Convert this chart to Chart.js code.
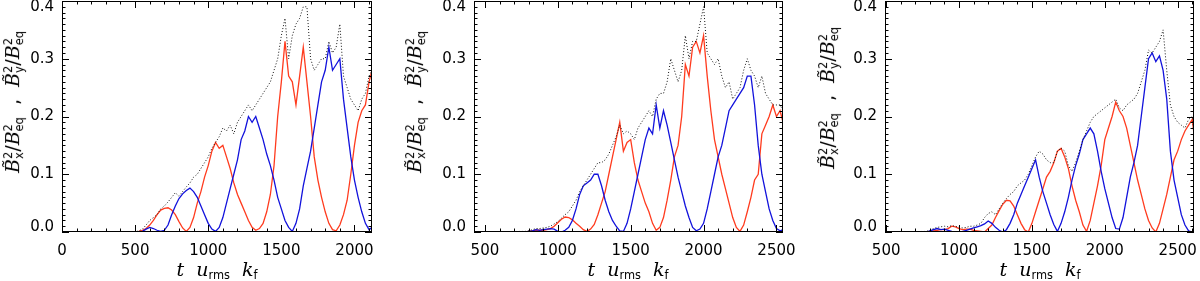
<!DOCTYPE html>
<html>
<head>
<meta charset="utf-8">
<script src="https://cdn.jsdelivr.net/npm/chart.js@4/dist/chart.umd.min.js"></script>
<style>
  html, body { margin: 0; padding: 0; background: #fff; }
  body { width: 1200px; height: 281px; position: relative; overflow: hidden; font-family: "DejaVu Sans", sans-serif; }
  .panel { position: absolute; top: 0; width: 400px; height: 281px; }
  .ytitle, .xtitle { position: absolute; white-space: nowrap; color: #000; font-size: 19px; line-height: 1; }
  .ytitle { transform: translate(-50%, -50%) rotate(-90deg); }
  .xtitle { transform: translate(-50%, 0); }
  .ss { display: inline-block; vertical-align: -0.35em; font-size: 0.6em; line-height: 0.95; text-align: left; }
  .ss span { display: block; }
  .xtitle sub { font-size: 0.6em; vertical-align: -0.3em; }
  i { font-family: "DejaVu Serif", serif; }
</style>
</head>
<body>
<div class="panel" style="left:0"><canvas id="c1" width="400" height="281"></canvas></div>
<div class="panel" style="left:400px"><canvas id="c2" width="400" height="281"></canvas></div>
<div class="panel" style="left:800px"><canvas id="c3" width="400" height="281"></canvas></div>

<div class="ytitle" style="left:14px;top:102px"><i>B&#771;</i><span class="ss"><span>2</span><span>x</span></span>/<i>B</i><span class="ss"><span>2</span><span>eq</span></span> &nbsp;, &nbsp;<i>B&#771;</i><span class="ss"><span>2</span><span>y</span></span>/<i>B</i><span class="ss"><span>2</span><span>eq</span></span></div>
<div class="ytitle" style="left:416px;top:102px"><i>B&#771;</i><span class="ss"><span>2</span><span>x</span></span>/<i>B</i><span class="ss"><span>2</span><span>eq</span></span> &nbsp;, &nbsp;<i>B&#771;</i><span class="ss"><span>2</span><span>y</span></span>/<i>B</i><span class="ss"><span>2</span><span>eq</span></span></div>
<div class="ytitle" style="left:829px;top:98px"><i>B&#771;</i><span class="ss"><span>2</span><span>x</span></span>/<i>B</i><span class="ss"><span>2</span><span>eq</span></span> &nbsp;, &nbsp;<i>B&#771;</i><span class="ss"><span>2</span><span>y</span></span>/<i>B</i><span class="ss"><span>2</span><span>eq</span></span></div>

<div class="xtitle" style="left:217px;top:260px"><i>t</i> &nbsp;<i>u</i><sub>rms</sub> &nbsp;<i>k</i><sub>f</sub></div>
<div class="xtitle" style="left:628px;top:260px"><i>t</i> &nbsp;<i>u</i><sub>rms</sub> &nbsp;<i>k</i><sub>f</sub></div>
<div class="xtitle" style="left:1040px;top:260px"><i>t</i> &nbsp;<i>u</i><sub>rms</sub> &nbsp;<i>k</i><sub>f</sub></div>

<script>
// ---------- data ----------
const yTickLabels = ["0.0", "0.1", "0.2", "0.3", "0.4"];
const xTicks1 = [0, 500, 1000, 1500, 2000];
const xTicks2 = [500, 1000, 1500, 2000, 2500];
const xTicks3 = [500, 1000, 1500, 2000, 2500];

// panel 1
const time1 = [0, 500, 525, 550, 575, 600, 625, 650, 675, 700, 725, 750, 775, 800, 825, 850, 875, 900, 925, 950, 975,
  1000, 1025, 1050, 1075, 1100, 1125, 1150, 1175, 1200, 1225, 1250, 1275, 1300, 1325, 1350, 1375, 1400, 1425, 1450, 1475,
  1500, 1525, 1550, 1575, 1600, 1625, 1650, 1675, 1700, 1725, 1750, 1775, 1800, 1825, 1850, 1875, 1900, 1925, 1950, 1975,
  2000, 2025, 2050, 2075, 2100, 2120];
const bx1 = [0, 0, 0.001, 0.003, 0.006, 0.012, 0.02, 0.03, 0.038, 0.041, 0.042, 0.038, 0.03, 0.018, 0.007, 0.001, 0.008, 0.025, 0.05, 0.07, 0.095,
  0.115, 0.14, 0.155, 0.145, 0.15, 0.13, 0.11, 0.085, 0.065, 0.05, 0.035, 0.02, 0.008, 0.003, 0.006, 0.015, 0.035, 0.065, 0.115, 0.2,
  0.26, 0.33, 0.27, 0.26, 0.22, 0.27, 0.32, 0.26, 0.2, 0.13, 0.09, 0.06, 0.035, 0.015, 0.004, 0.002, 0.012, 0.03, 0.055, 0.1,
  0.15, 0.19, 0.21, 0.22, 0.26, 0.28];
const by1 = [0, 0, 0, 0.001, 0.005, 0.008, 0.006, 0.003, 0.001, 0.003, 0.012, 0.03, 0.045, 0.058, 0.066, 0.072, 0.076, 0.07, 0.06, 0.045, 0.03,
  0.015, 0.005, 0.001, 0.008, 0.025, 0.05, 0.075, 0.1, 0.125, 0.16, 0.175, 0.2, 0.19, 0.2, 0.18, 0.16, 0.135, 0.115, 0.09, 0.06,
  0.04, 0.02, 0.008, 0.001, 0.015, 0.04, 0.08, 0.11, 0.14, 0.18, 0.22, 0.26, 0.28, 0.32, 0.28, 0.29, 0.3, 0.23, 0.18, 0.13,
  0.09, 0.06, 0.035, 0.015, 0.004, 0.008];
const tot1 = [0, 0, 0.002, 0.005, 0.012, 0.02, 0.025, 0.03, 0.04, 0.045, 0.052, 0.06, 0.068, 0.062, 0.07, 0.078, 0.085, 0.095, 0.1, 0.11, 0.12,
  0.13, 0.145, 0.155, 0.165, 0.18, 0.175, 0.185, 0.17, 0.19, 0.2, 0.21, 0.22, 0.21, 0.22, 0.23, 0.24, 0.25, 0.26, 0.28, 0.3,
  0.34, 0.37, 0.3, 0.34, 0.36, 0.37, 0.39, 0.39, 0.3, 0.28, 0.29, 0.3, 0.3, 0.33, 0.31, 0.32, 0.36, 0.27, 0.25, 0.23,
  0.22, 0.21, 0.23, 0.24, 0.27, 0.28];

// panel 2
const time2 = [425, 750, 775, 800, 825, 850, 875, 900, 925, 950, 975, 1000, 1025, 1050, 1075, 1100, 1125, 1150, 1175, 1200,
  1225, 1250, 1275, 1300, 1325, 1350, 1375, 1400, 1425, 1450, 1475, 1500, 1525, 1550, 1575, 1600, 1625, 1650, 1675, 1700,
  1725, 1750, 1775, 1800, 1825, 1850, 1875, 1900, 1925, 1950, 1975, 2000, 2025, 2050, 2075, 2100, 2125, 2150, 2175, 2200,
  2225, 2250, 2275, 2300, 2325, 2350, 2375, 2400, 2425, 2450, 2475, 2500, 2525, 2545];
const bx2 = [0, 0, 0, 0.001, 0.002, 0.003, 0.003, 0.003, 0.004, 0.006, 0.01, 0.016, 0.022, 0.026, 0.025, 0.021, 0.015, 0.01, 0.004, 0.001,
  0.005, 0.013, 0.03, 0.05, 0.07, 0.1, 0.13, 0.16, 0.19, 0.14, 0.155, 0.16, 0.12, 0.09, 0.07, 0.05, 0.035, 0.015, 0.003, 0.008,
  0.025, 0.055, 0.09, 0.13, 0.15, 0.2, 0.29, 0.27, 0.32, 0.33, 0.31, 0.34, 0.27, 0.21, 0.16, 0.13, 0.1, 0.075, 0.05, 0.025,
  0.008, 0.001, 0.012, 0.035, 0.06, 0.09, 0.1, 0.17, 0.185, 0.2, 0.22, 0.2, 0.21, 0.19];
const by2 = [0, 0, 0, 0.001, 0.002, 0.004, 0.003, 0.004, 0.005, 0.006, 0.005, 0.001, 0, 0.003, 0.008, 0.02, 0.04, 0.065, 0.08, 0.085,
  0.09, 0.1, 0.1, 0.08, 0.055, 0.035, 0.02, 0.01, 0.002, 0.001, 0.015, 0.04, 0.07, 0.1, 0.13, 0.16, 0.18, 0.17, 0.22, 0.18,
  0.21, 0.185, 0.155, 0.125, 0.095, 0.07, 0.045, 0.025, 0.008, 0.002, 0.005, 0.015, 0.04, 0.07, 0.1, 0.13, 0.15, 0.18, 0.21, 0.22,
  0.23, 0.24, 0.25, 0.27, 0.27, 0.22, 0.15, 0.1, 0.07, 0.04, 0.02, 0.006, 0.002, 0.004];
const tot2 = [0, 0.001, 0.001, 0.002, 0.004, 0.006, 0.006, 0.007, 0.008, 0.01, 0.014, 0.018, 0.024, 0.03, 0.035, 0.045, 0.055, 0.07, 0.08, 0.09,
  0.1, 0.11, 0.12, 0.12, 0.125, 0.135, 0.15, 0.165, 0.185, 0.17, 0.175, 0.17, 0.16, 0.18, 0.19, 0.2, 0.21, 0.2, 0.23, 0.24,
  0.24, 0.26, 0.3, 0.28, 0.26, 0.28, 0.34, 0.3, 0.33, 0.33, 0.36, 0.39, 0.31, 0.3, 0.29, 0.3, 0.27, 0.25, 0.26, 0.23,
  0.24, 0.25, 0.28, 0.3, 0.28, 0.27, 0.25, 0.27, 0.24, 0.23, 0.22, 0.22, 0.22, 0.21];

// panel 3
const time3 = [492, 775, 800, 825, 850, 875, 900, 925, 950, 975, 1000, 1025, 1050, 1075, 1100, 1125, 1150, 1175, 1200, 1225,
  1250, 1275, 1300, 1325, 1350, 1375, 1400, 1425, 1450, 1475, 1500, 1525, 1550, 1575, 1600, 1625, 1650, 1675, 1700, 1725,
  1750, 1775, 1800, 1825, 1850, 1875, 1900, 1925, 1950, 1975, 2000, 2025, 2050, 2075, 2100, 2125, 2150, 2175, 2200, 2225,
  2250, 2275, 2300, 2325, 2350, 2375, 2400, 2425, 2450, 2475, 2500, 2525, 2550, 2575, 2600, 2612];
const bx3 = [0, 0, 0.001, 0.002, 0.003, 0.004, 0.004, 0.006, 0.01, 0.009, 0.006, 0.004, 0.005, 0.005, 0.003, 0.002, 0.001, 0, 0.006, 0.012,
  0.025, 0.037, 0.048, 0.055, 0.054, 0.045, 0.03, 0.015, 0.004, 0, 0.015, 0.035, 0.055, 0.075, 0.095, 0.105, 0.12, 0.14, 0.145, 0.13,
  0.11, 0.08, 0.055, 0.035, 0.012, 0.001, 0.02, 0.05, 0.08, 0.115, 0.16, 0.18, 0.2, 0.225, 0.21, 0.2, 0.18, 0.15, 0.12, 0.09,
  0.065, 0.04, 0.02, 0.007, 0, 0.015, 0.04, 0.065, 0.095, 0.125, 0.14, 0.16, 0.175, 0.185, 0.195, 0.17];
const by3 = [0, 0, 0.002, 0.004, 0.006, 0.004, 0.005, 0.003, 0.001, 0, 0, 0.001, 0.003, 0.005, 0.007, 0.009, 0.011, 0.014, 0.019, 0.015,
  0.008, 0.003, 0, 0.004, 0.015, 0.03, 0.05, 0.065, 0.08, 0.095, 0.11, 0.125, 0.095, 0.07, 0.05, 0.03, 0.013, 0.001, 0.015, 0.035,
  0.06, 0.09, 0.115, 0.135, 0.16, 0.17, 0.18, 0.17, 0.14, 0.105, 0.075, 0.05, 0.025, 0.006, 0.005, 0.025, 0.06, 0.095, 0.12, 0.15,
  0.2, 0.25, 0.3, 0.31, 0.295, 0.305, 0.28, 0.23, 0.14, 0.09, 0.06, 0.03, 0.012, 0.002, 0, 0.001];
const tot3 = [0, 0.001, 0.003, 0.006, 0.008, 0.009, 0.01, 0.009, 0.011, 0.01, 0.008, 0.007, 0.008, 0.01, 0.01, 0.012, 0.015, 0.025, 0.032, 0.035,
  0.03, 0.04, 0.05, 0.058, 0.065, 0.07, 0.08, 0.085, 0.09, 0.1, 0.115, 0.13, 0.14, 0.135, 0.125, 0.12, 0.12, 0.14, 0.145, 0.14,
  0.115, 0.105, 0.12, 0.14, 0.16, 0.175, 0.19, 0.2, 0.205, 0.21, 0.215, 0.22, 0.225, 0.23, 0.215, 0.21, 0.22, 0.225, 0.23, 0.24,
  0.26, 0.28, 0.315, 0.31, 0.32, 0.33, 0.35, 0.28, 0.22, 0.2, 0.19, 0.185, 0.18, 0.195, 0.2, 0.17];

// ---------- styling ----------
const RED = "#ff3b1e";
const BLUE = "#1212dc";
const DOT = "#111";
const FONT = '"DejaVu Sans", sans-serif';

// IDL-like box: inward ticks on all four sides, labels drawn at scale positions
const frame = {
  id: "frame",
  afterDraw(chart, args, o) {
    const { ctx, chartArea: a, scales: { x, y } } = chart;
    ctx.save();
    ctx.strokeStyle = "#000";
    ctx.fillStyle = "#000";
    ctx.lineWidth = 1;
    ctx.strokeRect(a.left + 0.5, a.top + 0.5, a.right - a.left - 1, a.bottom - a.top - 1);
    ctx.beginPath();
    const x0 = Math.ceil(x.min / 100) * 100;
    for (let v = x0; v <= x.max; v += 100) {
      const px = Math.round(x.getPixelForValue(v)) + 0.5;
      const len = v % 500 === 0 ? 7 : 3.5;
      ctx.moveTo(px, a.bottom); ctx.lineTo(px, a.bottom - len);
      ctx.moveTo(px, a.top); ctx.lineTo(px, a.top + len);
    }
    for (let i = 0; i <= 40; i++) {
      const v = i / 100;
      const py = Math.round(y.getPixelForValue(v)) + 0.5;
      const len = i % 10 === 0 ? 7 : 3.5;
      ctx.moveTo(a.left, py); ctx.lineTo(a.left + len, py);
      ctx.moveTo(a.right, py); ctx.lineTo(a.right - len, py);
    }
    ctx.stroke();

    ctx.font = "15px " + FONT;
    ctx.textAlign = "center";
    ctx.textBaseline = "middle";
    o.xTicks.forEach((v) => ctx.fillText(String(v), x.getPixelForValue(v), a.bottom + 19));
    ctx.textAlign = "right";
    yTickLabels.forEach((s) => {
      const py = Math.min(Math.max(y.getPixelForValue(parseFloat(s)), a.top + 6), a.bottom - 5);
      ctx.fillText(s, a.left - 8, py);
    });
    ctx.restore();
  },
};

function pts(t, v) {
  return t.map((tt, i) => ({ x: tt, y: v[i] }));
}

function makePanel(id, time, bx, by, tot, xmin, xmax, padLeft, padRight, xTicks) {
  new Chart(document.getElementById(id), {
    type: "line",
    data: {
      datasets: [
        { data: pts(time, tot), borderColor: DOT, borderWidth: 1, borderDash: [1, 2], order: 0 },
        { data: pts(time, by), borderColor: BLUE, borderWidth: 1.3, order: 1 },
        { data: pts(time, bx), borderColor: RED, borderWidth: 1.3, order: 2 },
      ],
    },
    options: {
      responsive: false,
      animation: false,
      devicePixelRatio: 1,
      layout: { padding: { left: padLeft, right: padRight, top: 1, bottom: 49 } },
      elements: { point: { radius: 0 }, line: { tension: 0 } },
      plugins: { legend: { display: false }, tooltip: { enabled: false }, frame: { xTicks } },
      scales: {
        x: { type: "linear", min: xmin, max: xmax, display: false },
        y: { min: 0, max: 0.4, display: false },
      },
    },
    plugins: [frame],
  });
}

makePanel("c1", time1, bx1, by1, tot1, 0, 2120, 62, 28, xTicks1);
makePanel("c2", time2, bx2, by2, tot2, 425, 2545, 74, 17, xTicks2);
makePanel("c3", time3, bx3, by3, tot3, 492, 2612, 85, 6, xTicks3);
</script>
</body>
</html>
